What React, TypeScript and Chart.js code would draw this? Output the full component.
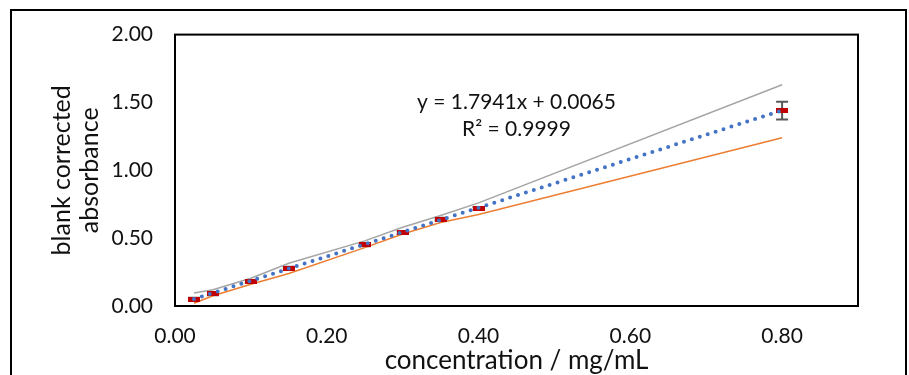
import React, { useEffect, useRef } from 'react';
import { Chart, registerables } from 'chart.js';

Chart.register(...registerables);

// ---- data ----
const concentrations = [0.025, 0.05, 0.1, 0.15, 0.25, 0.3, 0.35, 0.4, 0.8];
const meanAbsorbance = [0.05, 0.09, 0.18, 0.28, 0.45, 0.54, 0.64, 0.72, 1.44];
const errorAbsorbance = [0.01, 0.01, 0.01, 0.01, 0.01, 0.01, 0.01, 0.01, 0.065];
const upperAbsorbance = [0.095, 0.12, 0.205, 0.315, 0.48, 0.58, 0.667, 0.76, 1.63];
const lowerAbsorbance = [0.02, 0.075, 0.16, 0.24, 0.43, 0.53, 0.615, 0.675, 1.24];
const xTickValues = [0, 0.2, 0.4, 0.6, 0.8];
const yTickValues = [0, 0.5, 1.0, 1.5, 2.0];
const trendSlope = 1.7941;
const trendIntercept = 0.0065;
const trendR2 = 0.9999;
const equationLabel = `y = ${trendSlope.toFixed(4)}x + ${trendIntercept.toFixed(4)}`;
const r2Label = `R² = ${trendR2.toFixed(4)}`;
const xTitle = 'concentration / mg/mL';
const yTitle = ['blank corrected', 'absorbance'];

const FONT = 'Lato, "Open Sans", sans-serif';
const TEXT = '#111111';

function makeDash(): HTMLCanvasElement {
  const c = document.createElement('canvas');
  c.width = 12;
  c.height = 5;
  const g = c.getContext('2d')!;
  g.fillStyle = '#C00000';
  g.fillRect(0, 0, 12, 5);
  return c;
}

const decorPlugin = {
  id: 'decor',
  beforeDatasetsDraw(chart: any) {
    const { ctx, scales } = chart;
    const xs = scales.x, ys = scales.y;
    ctx.save();
    ctx.strokeStyle = '#595959';
    ctx.lineWidth = 2;
    concentrations.forEach((c, i) => {
      const px = xs.getPixelForValue(c);
      const top = ys.getPixelForValue(meanAbsorbance[i] + errorAbsorbance[i]);
      const bot = ys.getPixelForValue(meanAbsorbance[i] - errorAbsorbance[i]);
      ctx.beginPath();
      ctx.moveTo(px, top);
      ctx.lineTo(px, bot);
      ctx.moveTo(px - 6, top);
      ctx.lineTo(px + 6, top);
      ctx.moveTo(px - 6, bot);
      ctx.lineTo(px + 6, bot);
      ctx.stroke();
    });
    ctx.restore();
  },
  afterDraw(chart: any) {
    const { ctx, chartArea, scales, width, height } = chart;
    ctx.save();
    // plot area frame
    ctx.strokeStyle = '#000';
    ctx.lineWidth = 2;
    ctx.strokeRect(chartArea.left, chartArea.top, chartArea.right - chartArea.left, chartArea.bottom - chartArea.top);
    // outer frame (open at the bottom)
    ctx.beginPath();
    ctx.moveTo(11, height + 2);
    ctx.lineTo(11, 10);
    ctx.lineTo(width - 3, 10);
    ctx.lineTo(width - 3, height + 2);
    ctx.stroke();
    // trendline equation
    ctx.fillStyle = TEXT;
    ctx.font = `21px ${FONT}`;
    ctx.textAlign = 'center';
    ctx.textBaseline = 'middle';
    const tx = scales.x.getPixelForValue(0.45);
    ctx.fillText(equationLabel, tx, scales.y.getPixelForValue(1.5));
    ctx.fillText(r2Label, tx, scales.y.getPixelForValue(1.3));
    ctx.restore();
  },
};

export default function App() {
  const ref = useRef<HTMLCanvasElement>(null);
  useEffect(() => {
    if (!ref.current) return;
    const dash = makeDash();
    const pts = (ys: number[]) => concentrations.map((x, i) => ({ x, y: ys[i] }));
    const x0 = concentrations[0];
    const x1 = concentrations[concentrations.length - 1];
    const chart = new Chart(ref.current, {
      type: 'line',
      data: {
        datasets: [
          {
            label: 'Linear trend',
            data: [
              { x: x0, y: trendSlope * x0 + trendIntercept },
              { x: x1, y: trendSlope * x1 + trendIntercept },
            ],
            borderColor: '#4472C4',
            borderWidth: 4,
            borderDash: [0, 8.3],
            borderCapStyle: 'round',
            pointRadius: 0,
            fill: false,
          },
          {
            label: 'mean',
            data: pts(meanAbsorbance),
            showLine: false,
            pointStyle: dash as any,
            pointRadius: 6,
            pointHoverRadius: 6,
          },
          {
            label: 'upper',
            data: pts(upperAbsorbance),
            borderColor: '#A5A5A5',
            borderWidth: 1.5,
            pointRadius: 0,
            tension: 0,
          },
          {
            label: 'lower',
            data: pts(lowerAbsorbance),
            borderColor: '#ED7D31',
            borderWidth: 1.5,
            pointRadius: 0,
            tension: 0,
          },
        ],
      },
      options: {
        animation: false,
        responsive: false,
        devicePixelRatio: 1,
        layout: { padding: { top: 33, right: 51, left: 0, bottom: 0 } },
        plugins: { legend: { display: false }, tooltip: { enabled: false } },
        scales: {
          x: {
            type: 'linear',
            min: 0,
            max: 0.9,
            grid: { display: false, drawTicks: false },
            border: { display: false },
            afterBuildTicks: (s: any) => { s.ticks = xTickValues.map((v) => ({ value: v })); },
            afterFit: (s: any) => { s.height = 69; },
            ticks: {
              padding: 18,
              color: TEXT,
              font: { family: FONT, size: 21 },
              callback: (v: any) => Number(v).toFixed(2),
            },
            title: {
              display: true,
              text: xTitle,
              color: TEXT,
              font: { family: FONT, size: 26, lineHeight: '28px' },
              padding: { top: 0, bottom: 0 },
            },
          },
          y: {
            type: 'linear',
            min: 0,
            max: 2,
            grid: { display: false, drawTicks: false },
            border: { display: false },
            afterBuildTicks: (s: any) => { s.ticks = yTickValues.map((v) => ({ value: v })); },
            afterFit: (s: any) => { s.width = 175; },
            ticks: {
              padding: 22,
              color: TEXT,
              font: { family: FONT, size: 21 },
              callback: (v: any) => Number(v).toFixed(2),
            },
            title: {
              display: true,
              text: yTitle,
              color: TEXT,
              font: { family: FONT, size: 25, lineHeight: '28px' },
              padding: { top: 48, bottom: 0 },
            },
          },
        },
      },
      plugins: [decorPlugin],
    });
    return () => chart.destroy();
  }, []);
  return (
    <div style={{ position: 'fixed', left: 0, top: 0, width: 909, height: 375, background: '#fff' }}>
      <canvas ref={ref} width={909} height={375} style={{ width: 909, height: 375, display: 'block' }} />
    </div>
  );
}
